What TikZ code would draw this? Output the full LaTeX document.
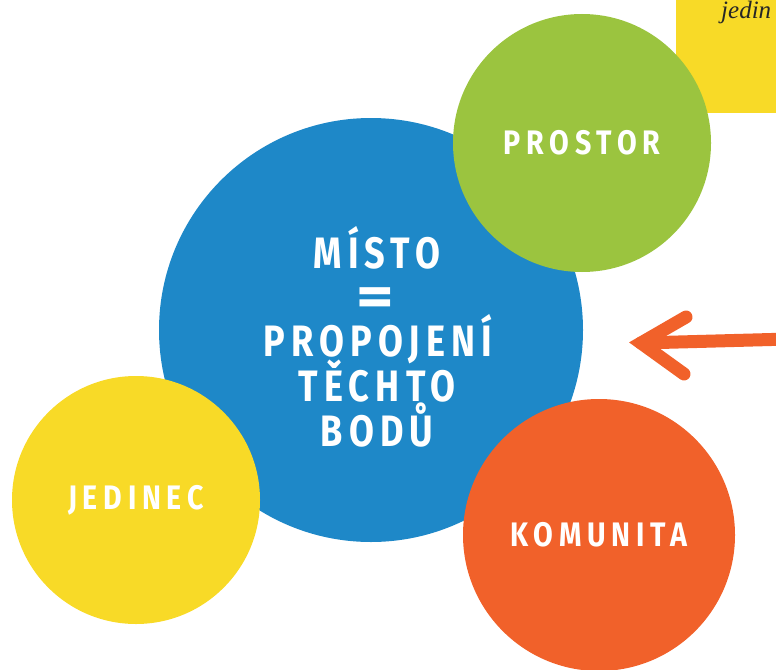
\documentclass[tikz,border=0pt]{standalone}
\usepackage{fontspec}
\setmainfont{Liberation Serif}
\newfontfamily\handfont[FakeStretch=0.82,LetterSpace=14]{Fira Sans Bold}
\newfontfamily\labelfont[FakeStretch=0.84,LetterSpace=17]{Fira Sans Bold}
\newfontfamily\eqfont[FakeStretch=1.25]{Fira Sans Bold}
\definecolor{cblue}{HTML}{1E88C8}
\definecolor{cgreen}{HTML}{9BC43F}
\definecolor{cyellow}{HTML}{F8DA27}
\definecolor{corange}{HTML}{F1612A}
\tikzset{
  blob/.style={circle, inner sep=0pt, text=white, align=center},
  bigtext/.style={font=\handfont\fontsize{44}{45}\selectfont, text=white, inner sep=0pt, anchor=base},
  smalltext/.style={font=\labelfont\fontsize{34}{36}\selectfont},
}
\begin{document}
\begin{tikzpicture}[x=1pt,y=-1pt]
\useasboundingbox (0,0) rectangle (776,669);
\clip (0,0) rectangle (776,669);
% yellow note top right
\node[fill=cyellow, draw=none, minimum width=110pt, minimum height=125pt, anchor=north west, inner sep=0pt] (note) at (676,-12) {};
\node[anchor=base west, font=\itshape\fontsize{25}{26}\selectfont, text=black!85, inner sep=0pt] (notetext) at (721,19) {jedin};
% circles
\node[blob, fill=cblue, minimum size=424pt] (misto) at (371,330) {};
\node[bigtext] (l1) at (377,268) {MÍSTO};
\node[font=\eqfont\fontsize{58}{58}\selectfont, text=white, inner sep=0pt] (l2) at (375,302) {=};
\node[bigtext] (l3) at (378,356) {PROPOJENÍ};
\node[bigtext] (l4) at (377,401) {TĚCHTO};
\node[bigtext] (l5) at (377,446) {BODŮ};
\node[blob, fill=cgreen, minimum size=258pt, smalltext] (prostor) at (582,143) {PROSTOR};
\node[blob, fill=cyellow, minimum size=248pt, smalltext] (jedinec) at (136,500) {JEDINEC};
\node[blob, fill=corange, minimum size=272pt, smalltext] (komunita) at (599,535) {KOMUNITA};
% arrow
\coordinate (astart) at (790,339);
\coordinate (atip) at (641,343);
\coordinate (aup) at (686,317);
\coordinate (adown) at (684,374);
\draw[corange, line width=13pt, line cap=round] (astart) -- (atip);
\draw[corange, line width=13pt, line cap=round, line join=miter, miter limit=20] (aup) -- (atip) -- (adown);
\end{tikzpicture}
\end{document}
